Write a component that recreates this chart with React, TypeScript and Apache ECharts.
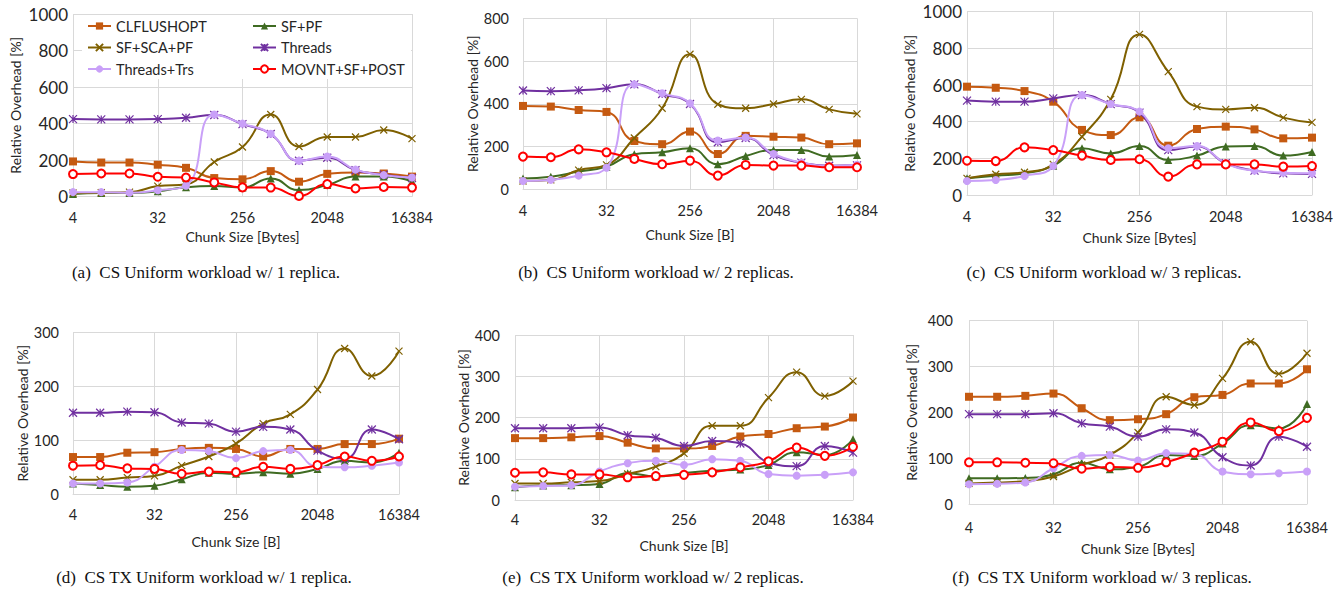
import React, { useEffect, useRef } from 'react';
import * as echarts from 'echarts';

const chunkSizes = ['4', '8', '16', '32', '64', '128', '256', '512', '1024', '2048', '4096', '8192', '16384'];
const seriesNames = ['CLFLUSHOPT', 'SF+PF', 'SF+SCA+PF', 'Threads', 'Threads+Trs', 'MOVNT+SF+POST'];

// (a) CS Uniform, 1 replica
const aClflushopt = [193, 187, 187, 175, 158, 102, 95, 140, 82, 125, 133, 127, 110];
const aSfPf = [15, 20, 20, 30, 52, 58, 50, 100, 36, 64, 110, 110, 84];
const aSfScaPf = [20, 22, 25, 58, 68, 190, 272, 450, 275, 327, 327, 365, 318];
const aThreads = [425, 423, 423, 425, 432, 447, 397, 343, 197, 213, 145, 120, 102];
const aThreadsTrs = [25, 25, 22, 35, 60, 450, 400, 345, 197, 220, 148, 118, 105];
const aMovnt = [124, 127, 127, 109, 105, 78, 51, 50, 4, 69, 45, 53, 50];

// (b) CS Uniform, 2 replicas
const bClflushopt = [390, 387, 371, 362, 226, 211, 270, 165, 250, 246, 242, 211, 215];
const bSfPf = [51, 59, 83, 106, 164, 173, 192, 117, 156, 184, 184, 153, 161];
const bSfScaPf = [39, 44, 90, 114, 240, 379, 632, 398, 379, 399, 421, 374, 353];
const bThreads = [462, 459, 463, 473, 491, 446, 399, 220, 240, 160, 125, 110, 112];
const bThreadsTrs = [39, 44, 64, 101, 491, 449, 402, 228, 242, 165, 125, 108, 115];
const bMovnt = [153, 150, 187, 173, 142, 117, 134, 64, 114, 111, 111, 103, 103];

// (c) CS Uniform, 3 replicas
const cClflushopt = [591, 585, 567, 509, 355, 327, 424, 269, 360, 373, 358, 309, 313];
const cSfPf = [91, 105, 118, 160, 255, 227, 267, 191, 215, 264, 267, 215, 235];
const cSfScaPf = [91, 113, 124, 167, 318, 522, 876, 673, 482, 467, 476, 422, 396];
const cThreads = [515, 509, 509, 527, 545, 496, 449, 245, 264, 173, 133, 118, 115];
const cThreadsTrs = [76, 82, 104, 158, 545, 496, 455, 255, 267, 173, 133, 122, 118];
const cMovnt = [187, 185, 260, 245, 215, 191, 195, 100, 167, 167, 167, 155, 158];

// (d) CS TX Uniform, 1 replica
const dClflushopt = [69, 69, 77, 78, 84, 86, 84, 70, 84, 84, 93, 93, 103];
const dSfPf = [20, 17, 14, 16, 28, 40, 38, 41, 38, 47, 62, 59, 77];
const dSfScaPf = [27, 27, 31, 34, 53, 70, 94, 131, 148, 194, 270, 219, 265];
const dThreads = [151, 151, 153, 152, 133, 131, 116, 125, 120, 81, 66, 120, 102];
const dThreadsTrs = [20, 20, 22, 51, 82, 80, 67, 80, 82, 51, 50, 53, 59];
const dMovnt = [53, 54, 48, 47, 38, 42, 41, 51, 47, 54, 70, 62, 70];

// (e) CS TX Uniform, 2 replicas
const eClflushopt = [150, 150, 152, 155, 139, 125, 125, 131, 154, 160, 174, 178, 200];
const eSfPf = [31, 35, 36, 39, 65, 57, 65, 71, 74, 85, 116, 109, 147];
const eSfScaPf = [40, 40, 43, 46, 63, 81, 113, 180, 180, 248, 310, 252, 288];
const eThreads = [174, 174, 174, 176, 157, 151, 131, 143, 137, 91, 82, 131, 115];
const eThreadsTrs = [32, 34, 36, 69, 89, 95, 85, 99, 95, 63, 59, 61, 67];
const eMovnt = [66, 67, 62, 62, 55, 58, 61, 67, 79, 94, 127, 107, 129];

// (f) CS TX Uniform, 3 replicas
const fClflushopt = [234, 234, 236, 241, 209, 183, 185, 196, 233, 238, 263, 263, 294];
const fSfPf = [56, 56, 57, 65, 90, 76, 81, 107, 105, 132, 172, 165, 218];
const fSfScaPf = [45, 47, 50, 60, 85, 107, 156, 234, 216, 274, 354, 284, 329];
const fThreads = [196, 196, 196, 198, 176, 169, 147, 163, 156, 102, 84, 147, 125];
const fThreadsTrs = [43, 44, 47, 78, 105, 107, 95, 111, 109, 71, 65, 67, 71];
const fMovnt = [91, 91, 90, 89, 77, 81, 79, 91, 112, 136, 178, 159, 188];

const captions = [
  '(a)  CS Uniform workload w/ 1 replica.',
  '(b)  CS Uniform workload w/ 2 replicas.',
  '(c)  CS Uniform workload w/ 3 replicas.',
  '(d)  CS TX Uniform workload w/ 1 replica.',
  '(e)  CS TX Uniform workload w/ 2 replicas.',
  '(f)  CS TX Uniform workload w/ 3 replicas.',
];
const xTitles = ['Chunk Size [Bytes]', 'Chunk Size [B]', 'Chunk Size [Bytes]', 'Chunk Size [B]', 'Chunk Size [B]', 'Chunk Size [Bytes]'];
const yMax = [1000, 800, 1000, 300, 400, 400];
const yStep = [200, 200, 200, 100, 100, 100];

const panelData = [
  [aClflushopt, aSfPf, aSfScaPf, aThreads, aThreadsTrs, aMovnt],
  [bClflushopt, bSfPf, bSfScaPf, bThreads, bThreadsTrs, bMovnt],
  [cClflushopt, cSfPf, cSfScaPf, cThreads, cThreadsTrs, cMovnt],
  [dClflushopt, dSfPf, dSfScaPf, dThreads, dThreadsTrs, dMovnt],
  [eClflushopt, eSfPf, eSfScaPf, eThreads, eThreadsTrs, eMovnt],
  [fClflushopt, fSfPf, fSfScaPf, fThreads, fThreadsTrs, fMovnt],
];

// layout (pixels)
const layout = [
  { left: 73, top: 14, width: 339, height: 182.7, yFont: 17, yMargin: 5, yGap: 51, xGap: 33, xMargin: 13, capX: 206, capY: 272 },
  { left: 523, top: 18.3, width: 334, height: 171, yFont: 14.5, yMargin: 14, yGap: 44, xGap: 38, xMargin: 14, capX: 656, capY: 272 },
  { left: 967, top: 11.7, width: 345, height: 183.3, yFont: 17, yMargin: 5, yGap: 51, xGap: 35, xMargin: 14, capX: 1104, capY: 272 },
  { left: 73, top: 332.3, width: 326, height: 162, yFont: 14.5, yMargin: 14, yGap: 43, xGap: 40, xMargin: 13, capX: 204, capY: 577 },
  { left: 515, top: 335, width: 338, height: 165, yFont: 14.5, yMargin: 15, yGap: 43, xGap: 38, xMargin: 12, capX: 653, capY: 577 },
  { left: 969, top: 320.7, width: 338, height: 183.3, yFont: 14.5, yMargin: 16, yGap: 51, xGap: 37, xMargin: 16, capX: 1102, capY: 577 },
];

const colors = ['#C55A11', '#3F6B22', '#7F6000', '#7030A0', '#C9A0F8', '#FF0000'];
const symbols = [
  'rect',
  'triangle',
  'path://M0,0L10,10M10,0L0,10',
  'path://M0,0L10,10M10,0L0,10M5,0L5,10',
  'circle',
  'emptyCircle',
];
const symbolSizes = [8, 8, 7, 8, 8, 8];

const FONT = 'Lato, "Liberation Sans", sans-serif';
const GRID = '#D9D9D9';

export default function App() {
  const ref = useRef<HTMLDivElement>(null);
  useEffect(() => {
    if (!ref.current) return;
    const chart = echarts.init(ref.current, undefined, { renderer: 'svg' });
    const grid = layout.map((l) => ({ left: l.left, top: l.top, width: l.width, height: l.height, containLabel: false }));
    const xAxis = layout.map((l, i) => ({
      type: 'category',
      gridIndex: i,
      data: chunkSizes,
      boundaryGap: false,
      axisLine: { show: true, lineStyle: { color: GRID, width: 1 } },
      axisTick: { show: false },
      axisLabel: { interval: 2, fontSize: 14.5, color: '#262626', fontFamily: FONT, margin: l.xMargin },
      splitLine: { show: true, interval: 2, lineStyle: { color: GRID, width: 1 } },
      name: xTitles[i],
      nameLocation: 'middle',
      nameGap: l.xGap,
      nameTextStyle: { fontSize: 14, color: '#262626', fontFamily: FONT, verticalAlign: 'top' },
    }));
    const yAxis = layout.map((l, i) => ({
      type: 'value',
      gridIndex: i,
      min: 0,
      max: yMax[i],
      interval: yStep[i],
      axisLine: { show: false },
      axisTick: { show: false },
      axisLabel: { fontSize: l.yFont, color: '#262626', fontFamily: FONT, margin: l.yMargin, formatter: (v: number) => String(v) },
      splitLine: { show: true, lineStyle: { color: GRID, width: 1 } },
      name: 'Relative Overhead [%]',
      nameLocation: 'middle',
      nameGap: l.yGap,
      nameTextStyle: { fontSize: 14, color: '#262626', fontFamily: FONT },
    }));
    const series: any[] = [];
    panelData.forEach((pd, p) => {
      pd.forEach((vals, s) => {
        const isPath = s === 2 || s === 3;
        series.push({
          type: 'line',
          name: seriesNames[s],
          xAxisIndex: p,
          yAxisIndex: p,
          data: vals,
          smooth: 0.5,
          symbol: symbols[s],
          symbolSize: symbolSizes[s],
          showAllSymbol: true,
          color: colors[s],
          lineStyle: { width: 2, color: colors[s] },
          itemStyle: isPath
            ? { color: colors[s], borderColor: colors[s], borderWidth: 1.2 }
            : s === 5
            ? { color: colors[s], borderColor: colors[s], borderWidth: 1 }
            : { color: colors[s], borderWidth: 0 },
          emphasis: { disabled: true },
          z: 2 + s * 0.1,
        });
      });
    });
    const legendCommon = {
      orient: 'vertical',
      itemWidth: 23,
      itemHeight: 9,
      itemGap: 5.5,
      padding: 0,
      selectedMode: false,
      textStyle: { fontSize: 14.5, lineHeight: 16, color: '#262626', fontFamily: FONT },
    };
    const graphic: any[] = [
      { type: 'rect', shape: { x: 82, y: 15, width: 329, height: 64 }, style: { fill: '#ffffff' }, z: 1, silent: true },
    ];
    layout.forEach((l, i) => {
      graphic.push({
        type: 'text',
        x: l.capX,
        y: l.capY,
        z: 5,
        style: {
          text: captions[i],
          fill: '#111',
          fontSize: 17,
          fontFamily: '"Liberation Serif", "DejaVu Serif", serif',
          align: 'center',
          verticalAlign: 'middle',
          textAlign: 'center',
          textVerticalAlign: 'middle',
        },
      });
    });
    chart.setOption({
      animation: false,
      backgroundColor: '#ffffff',
      grid,
      xAxis,
      yAxis,
      legend: [
        { ...legendCommon, left: 87, top: 18, data: ['CLFLUSHOPT', 'SF+SCA+PF', 'Threads+Trs'] },
        { ...legendCommon, left: 252, top: 18, data: ['SF+PF', 'Threads', 'MOVNT+SF+POST'] },
      ],
      series,
      graphic,
    });
    return () => chart.dispose();
  }, []);
  return <div ref={ref} style={{ position: 'absolute', left: 0, top: 0, width: 1344, height: 592 }} />;
}
